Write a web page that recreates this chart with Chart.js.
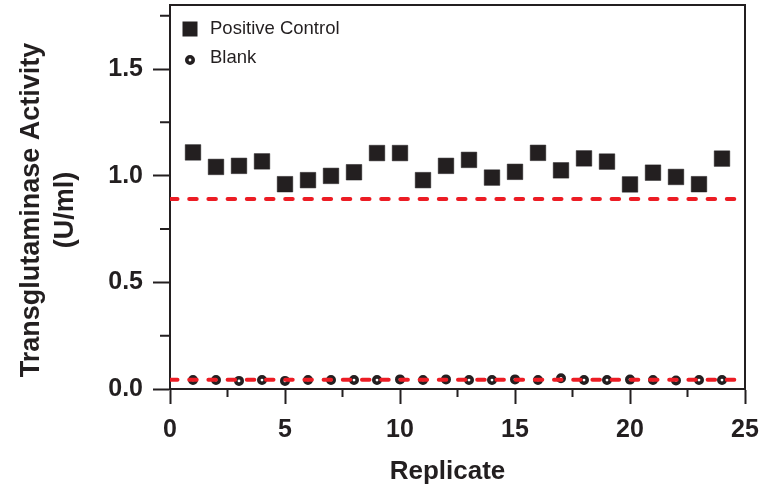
<!DOCTYPE html>
<html>
<head>
<meta charset="utf-8">
<script src="https://cdn.jsdelivr.net/npm/chart.js@4"></script>
<style>
html,body{margin:0;padding:0;background:#fff;}
#wrap{width:774px;height:492px;}
</style>
</head>
<body>
<div id="wrap"><canvas id="c" width="774" height="492"></canvas></div>
<script>
const replicates = [1,2,3,4,5,6,7,8,9,10,11,12,13,14,15,16,17,18,19,20,21,22,23,24];
const positiveControl = [1.109,1.041,1.046,1.067,0.960,0.979,0.999,1.016,1.106,1.106,0.979,1.046,1.074,0.991,1.018,1.107,1.025,1.081,1.066,0.959,1.014,0.994,0.960,1.080];
const blank = [0.042,0.042,0.038,0.042,0.038,0.042,0.042,0.042,0.042,0.045,0.042,0.045,0.042,0.042,0.045,0.042,0.050,0.042,0.042,0.044,0.042,0.040,0.042,0.042];
const cutoffX = [0, 24.6];
const positiveCutoff = 0.891;
const blankCutoff = 0.043;
const yTicks = [0, 0.5, 1.0, 1.5];
const yMinorTicks = [0.25, 0.75, 1.25, 1.75];
const xMinorTicks = [2.5, 7.5, 12.5, 17.5, 22.5];
const legendLabels = ['Positive Control', 'Blank'];
const xTitle = 'Replicate';
const yTitle = ['Transglutaminase Activity', '(U/ml)'];

const INK = '#231f20';
const RED = '#ec1c24';
const FAMILY = '"Liberation Sans", Arial, sans-serif';

const toPts = (xs, ys) => xs.map((x, i) => ({x, y: ys[i]}));

const decorations = {
  id: 'decorations',
  afterDraw(chart) {
    const ctx = chart.ctx, xs = chart.scales.x, ys = chart.scales.y, a = chart.chartArea;
    ctx.save();
    ctx.strokeStyle = INK; ctx.lineWidth = 2;
    ctx.beginPath();
    yMinorTicks.forEach(v => { const p = ys.getPixelForValue(v); ctx.moveTo(ys.right - 10, p); ctx.lineTo(ys.right, p); });
    xMinorTicks.forEach(v => { const p = xs.getPixelForValue(v); ctx.moveTo(p, xs.top); ctx.lineTo(p, xs.top + 8); });
    ctx.stroke();
    // frame top and right
    ctx.beginPath();
    ctx.moveTo(a.left - 1, a.top); ctx.lineTo(a.right, a.top); ctx.lineTo(a.right, a.bottom);
    ctx.stroke();

    // axis titles
    ctx.fillStyle = INK;
    ctx.textAlign = 'center'; ctx.textBaseline = 'middle';
    ctx.font = 'bold 26px ' + FAMILY;
    ctx.fillText(xTitle, a.left + (a.right - a.left) / 2 - 10, 472);
    ctx.save();
    ctx.translate(0, a.top + (a.bottom - a.top) / 2 + 13);
    ctx.rotate(-Math.PI / 2);
    ctx.font = 'bold 27px ' + FAMILY;
    ctx.fillText(yTitle[0], 0, 32);
    ctx.fillText(yTitle[1], 0, 66);
    ctx.restore();

    // legend inside plot
    const x0 = a.left + 20, rows = [a.top + 24, a.top + 55];
    ctx.fillStyle = INK;
    ctx.fillRect(x0 - 7.5, rows[0] - 7.5, 15, 15);
    ctx.beginPath();
    ctx.arc(x0, rows[1], 3.2, 0, Math.PI * 2);
    ctx.fillStyle = '#fff'; ctx.fill();
    ctx.lineWidth = 3.6; ctx.strokeStyle = INK; ctx.stroke();
    ctx.fillStyle = INK;
    ctx.font = '18.5px ' + FAMILY;
    ctx.textBaseline = 'middle'; ctx.textAlign = 'left';
    ctx.fillText(legendLabels[0], x0 + 20, rows[0]);
    ctx.fillText(legendLabels[1], x0 + 20, rows[1] - 2);
    ctx.restore();
  }
};

new Chart(document.getElementById('c'), {
  type: 'scatter',
  data: {
    datasets: [
      { label: 'cutoff PC', type: 'line', data: toPts(cutoffX, [positiveCutoff, positiveCutoff]),
        borderColor: RED, borderWidth: 4, borderDash: [7.5, 11.7], borderCapStyle: 'round',
        pointRadius: 0, fill: false },
      { label: 'cutoff blank', type: 'line', data: toPts(cutoffX, [blankCutoff, blankCutoff]),
        borderColor: RED, borderWidth: 4, borderDash: [7.5, 11.7], borderCapStyle: 'round',
        pointRadius: 0, fill: false },
      { label: legendLabels[0], data: toPts(replicates, positiveControl),
        pointStyle: 'rect', pointRadius: 11, backgroundColor: INK, borderColor: INK, borderWidth: 0.5 },
      { label: legendLabels[1], data: toPts(replicates, blank),
        pointStyle: 'circle', pointRadius: 3.2, backgroundColor: '#fff', borderColor: INK, borderWidth: 3.6 }
    ]
  },
  options: {
    responsive: false,
    animation: false,
    layout: { autoPadding: false, padding: { left: 10, top: 5, right: 29, bottom: 0 } },
    plugins: { legend: { display: false }, tooltip: { enabled: false } },
    scales: {
      x: {
        type: 'linear', min: 0, max: 25,
        ticks: { stepSize: 5, color: INK, padding: 11, font: { family: FAMILY, size: 25, weight: 'bold' } },
        grid: { drawOnChartArea: false, tickLength: 15, tickWidth: 2, tickColor: INK },
        border: { display: true, color: INK, width: 2 },
        title: { display: false },
        afterFit(s) { s.height = 103; s.paddingLeft = 0; s.paddingRight = 0; }
      },
      y: {
        type: 'linear', min: 0, max: 1.8,
        afterBuildTicks(s) { s.ticks = yTicks.map(v => ({ value: v })); },
        ticks: { color: INK, padding: 10, callback: v => v.toFixed(1),
          font: { family: FAMILY, size: 25, weight: 'bold' } },
        grid: { drawOnChartArea: false, tickLength: 17, tickWidth: 2, tickColor: INK },
        border: { display: true, color: INK, width: 2 },
        title: { display: false },
        afterFit(s) { s.width = 160; s.paddingTop = 0; s.paddingBottom = 0; }
      }
    }
  },
  plugins: [decorations]
});
</script>
</body>
</html>
